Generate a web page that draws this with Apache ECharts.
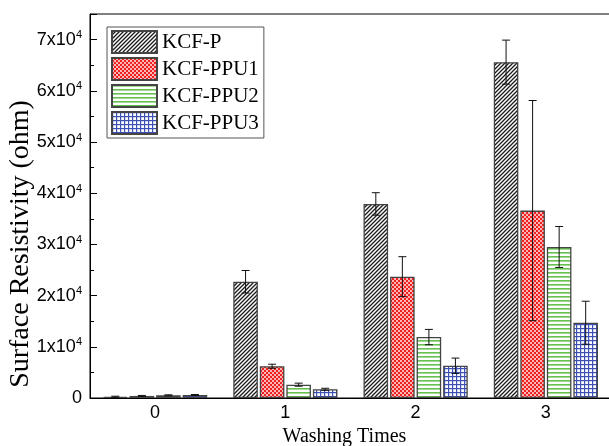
<!DOCTYPE html>
<html>
<head>
<meta charset="utf-8">
<script src="https://cdn.jsdelivr.net/npm/echarts@6/dist/echarts.min.js"></script>
<style>
  html, body { margin: 0; padding: 0; background: #fff; }
  #chart { width: 609px; height: 446px; }
</style>
</head>
<body>
<div id="chart"></div>
<script>
  // data
  var washTimes = ['0', '1', '2', '3'];
  var seriesNames = ['KCF-P', 'KCF-PPU1', 'KCF-PPU2', 'KCF-PPU3'];
  var kcfP = [250, 22700, 37900, 65600];
  var kcfPErr = [100, 2200, 2200, 4300];
  var ppu1 = [400, 6200, 23700, 36600];
  var ppu1Err = [100, 400, 3900, 21500];
  var ppu2 = [520, 2600, 11900, 29500];
  var ppu2Err = [100, 300, 1500, 4000];
  var ppu3 = [580, 1700, 6300, 14700];
  var ppu3Err = [100, 200, 1500, 4200];

  var values = [kcfP, ppu1, ppu2, ppu3];
  var errors = [kcfPErr, ppu1Err, ppu2Err, ppu3Err];

  // fill patterns
  function makePattern(size, draw) {
    var c = document.createElement('canvas');
    c.width = c.height = size;
    var ctx = c.getContext('2d');
    draw(ctx, size);
    return { image: c, repeat: 'repeat' };
  }
  var patterns = [
    makePattern(4, function (ctx, s) {
      ctx.fillStyle = '#fff'; ctx.fillRect(0, 0, s, s);
      ctx.strokeStyle = '#1a1a1a'; ctx.lineWidth = 1.3;
      ctx.beginPath();
      ctx.moveTo(-1, s + 1); ctx.lineTo(s + 1, -1);
      ctx.moveTo(-1, 1); ctx.lineTo(1, -1);
      ctx.moveTo(s - 1, s + 1); ctx.lineTo(s + 1, s - 1);
      ctx.stroke();
    }),
    makePattern(4, function (ctx, s) {
      ctx.fillStyle = '#f02020'; ctx.fillRect(0, 0, s, s);
      ctx.fillStyle = '#fff';
      ctx.beginPath(); ctx.arc(1, 1, 0.9, 0, Math.PI * 2); ctx.fill();
      ctx.beginPath(); ctx.arc(3, 3, 0.9, 0, Math.PI * 2); ctx.fill();
    }),
    makePattern(4, function (ctx, s) {
      ctx.fillStyle = '#fff'; ctx.fillRect(0, 0, s, s);
      ctx.fillStyle = '#66c050'; ctx.fillRect(0, 0, s, 1.6);
    }),
    makePattern(4, function (ctx, s) {
      ctx.fillStyle = '#fff'; ctx.fillRect(0, 0, s, s);
      ctx.fillStyle = '#3d50b5';
      ctx.fillRect(0, 0, s, 1.2); ctx.fillRect(0, 0, 1.2, s);
    })
  ];

  var catGap = 0.2, barGapRatio = 0.08;

  var series = [];
  var errData = [];
  for (var i = 0; i < 4; i++) {
    series.push({
      name: seriesNames[i],
      type: 'bar',
      barCategoryGap: '20%',
      barGap: '8%',
      data: values[i],
      itemStyle: { color: patterns[i], borderColor: '#444', borderWidth: 1.3 }
    });
    for (var j = 0; j < washTimes.length; j++) {
      errData.push([j, values[i][j] - errors[i][j], values[i][j] + errors[i][j], i]);
    }
  }

  series.push({
    type: 'custom',
    z: 5,
    silent: true,
    data: errData,
    encode: { x: 0, y: [1, 2] },
    renderItem: function (params, api) {
      var cat = api.value(0), s = api.value(3);
      var catW = api.size([1, 0])[0];
      var groupW = catW * (1 - catGap);
      var barW = groupW / (4 + 3 * barGapRatio);
      var x = api.coord([cat, 0])[0] - groupW / 2 + barW / 2 + s * barW * (1 + barGapRatio);
      var yl = api.coord([cat, api.value(1)])[1];
      var yh = api.coord([cat, api.value(2)])[1];
      var cap = 4;
      var st = { stroke: '#111', lineWidth: 1 };
      return {
        type: 'group',
        children: [
          { type: 'line', shape: { x1: x, y1: yh, x2: x, y2: yl }, style: st },
          { type: 'line', shape: { x1: x - cap, y1: yh, x2: x + cap, y2: yh }, style: st },
          { type: 'line', shape: { x1: x - cap, y1: yl, x2: x + cap, y2: yl }, style: st }
        ]
      };
    }
  });

  var chart = echarts.init(document.getElementById('chart'));
  chart.setOption({
    animation: false,
    backgroundColor: '#fff',
    grid: {
      left: 90, top: 14, width: 521, bottom: 48,
      outerBoundsMode: 'none', containLabel: false,
      show: true, borderColor: '#000', borderWidth: 1
    },
    legend: {
      data: seriesNames,
      orient: 'vertical',
      left: 107, top: 27,
      icon: 'rect',
      itemWidth: 45, itemHeight: 22, itemGap: 3,
      padding: [3, 5, 3, 4],
      borderColor: '#555', borderWidth: 1,
      textStyle: { fontFamily: 'Liberation Serif', fontSize: 21, color: '#000' }
    },
    xAxis: {
      type: 'category',
      data: washTimes,
      name: 'Washing Times',
      nameLocation: 'middle',
      nameGap: 26,
      nameTextStyle: { fontFamily: 'Liberation Serif', fontSize: 20, color: '#000', padding: [0, 12, 0, 0] },
      axisLine: { lineStyle: { color: '#000', width: 1 } },
      axisTick: { inside: true, alignWithLabel: true, length: 6, lineStyle: { color: '#000' } },
      axisLabel: { fontFamily: 'Liberation Sans', fontSize: 18, color: '#000', margin: 6 }
    },
    yAxis: {
      type: 'value',
      min: 0, max: 75000, interval: 10000,
      name: 'Surface Resistivity (ohm)',
      nameLocation: 'middle',
      nameMoveOverlap: false,
      nameGap: 55,
      nameTextStyle: { fontFamily: 'Liberation Serif', fontSize: 28, color: '#000', padding: [0, 76, 0, 0] },
      splitLine: { show: false },
      axisLine: { show: true, lineStyle: { color: '#000', width: 1 } },
      axisTick: { show: true, inside: true, length: 7, lineStyle: { color: '#000' } },
      minorTick: { show: true, splitNumber: 2, length: 4, lineStyle: { color: '#000' } },
      axisLabel: {
        margin: 8,
        color: '#000',
        formatter: function (v) {
          if (v === 0) return '{a|0}';
          if (v > 70000) return '';
          return '{a|' + (v / 10000) + 'x10}{b|4}';
        },
        rich: {
          a: { fontFamily: 'Liberation Sans', fontSize: 18, color: '#000' },
          b: { fontFamily: 'Liberation Sans', fontSize: 11, color: '#000', padding: [0, 0, 9, 0] }
        }
      }
    },
    series: series
  });
</script>
</body>
</html>
